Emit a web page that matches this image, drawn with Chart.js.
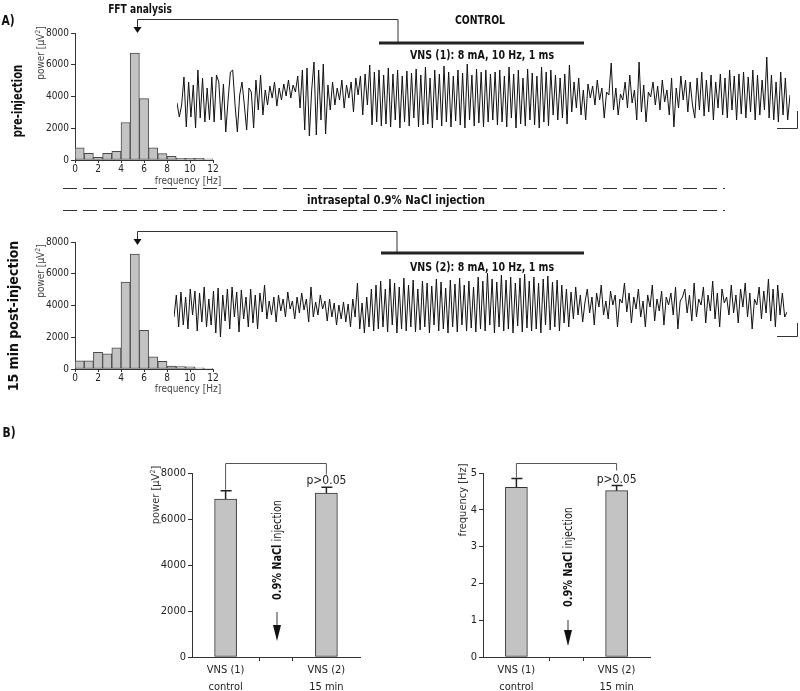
<!DOCTYPE html>
<html>
<head>
<meta charset="utf-8">
<script src="https://cdn.jsdelivr.net/npm/chart.js@4"></script>
<style>
body{margin:0;background:#fff;width:800px;height:691px;position:relative;overflow:hidden;font-family:"Liberation Sans Narrow","DejaVu Sans Condensed",sans-serif;color:#111}
canvas{position:absolute}
svg{position:absolute;left:0;top:0}
.t{position:absolute;white-space:nowrap;line-height:1;transform:translate(-50%,-50%) scaleX(var(--sx,1))}
.r{transform:translate(-50%,-50%) rotate(-90deg) scaleX(var(--sx,1))}
.b{font-weight:bold}
.lab{font-size:10px;color:#444}
sup{font-size:7px;vertical-align:4px;line-height:0}
</style>
</head>
<body>

<canvas id="histPre" width="201" height="155" style="left:20px;top:25px"></canvas>
<canvas id="histPost" width="201" height="155" style="left:20px;top:234px"></canvas>
<canvas id="tracePre" width="613" height="100" style="left:177px;top:50px"></canvas>
<canvas id="tracePost" width="613" height="100" style="left:174px;top:257px"></canvas>
<canvas id="barPower" width="240" height="250" style="left:130px;top:440px"></canvas>
<canvas id="barFreq" width="240" height="250" style="left:420px;top:440px"></canvas>

<svg width="800" height="691">
  <g stroke="#333" fill="none" stroke-width="1">
    <polyline points="398,43 398,19.5 137.5,19.5 137.5,28"/>
    <polyline points="397,253 397,231.5 137.5,231.5 137.5,240"/>
    <polyline points="777,128.5 797.5,128.5 797.5,111"/>
    <polyline points="777,336.5 797.5,336.5 797.5,323"/>
    <line x1="63" y1="188.5" x2="725" y2="188.5" stroke-dasharray="14 6"/>
    <line x1="63" y1="210.5" x2="725" y2="210.5" stroke-dasharray="14 6"/>
    <line x1="277" y1="612" x2="277" y2="628"/>
    <line x1="568" y1="620" x2="568" y2="633"/>
  </g>
  <g fill="#111">
    <polygon points="133.5,27 141.5,27 137.5,33"/>
    <polygon points="133.5,239 141.5,239 137.5,245"/>
    <polygon points="273,625 281,625 277,641"/>
    <polygon points="564,630 572,630 568,646"/>
  </g>
  <g stroke="#222" stroke-width="3">
    <line x1="379" y1="43" x2="584" y2="43"/>
    <line x1="381" y1="253" x2="584" y2="253"/>
  </g>
</svg>

<div class="t b" style="left:8px;top:20px;font-size:14px;--sx:.85">A)</div>
<div class="t b" style="left:9px;top:432px;font-size:14px;--sx:.85">B)</div>
<div class="t b" style="left:140px;top:8px;font-size:13px;--sx:.78">FFT analysis</div>
<div class="t b" style="left:480px;top:19px;font-size:13px;--sx:.8">CONTROL</div>
<div class="t b" style="left:482px;top:54px;font-size:13px;--sx:.81">VNS (1): 8 mA, 10 Hz, 1 ms</div>
<div class="t b" style="left:482px;top:266px;font-size:13px;--sx:.81">VNS (2): 8 mA, 10 Hz, 1 ms</div>
<div class="t b" style="left:396px;top:199px;font-size:13px;--sx:.87">intraseptal 0.9% NaCl injection</div>
<div class="t r b" style="left:17px;top:101px;font-size:14px;--sx:.8">pre-injection</div>
<div class="t r b" style="left:13px;top:316px;font-size:14px;--sx:1">15 min post-injection</div>
<div class="t r lab" style="left:41px;top:53px">power [µV<sup>2</sup>]</div>
<div class="t r lab" style="left:41px;top:271px">power [µV<sup>2</sup>]</div>
<div class="t lab" style="left:188px;top:181px">frequency [Hz]</div>
<div class="t lab" style="left:188px;top:389px">frequency [Hz]</div>
<div class="t r" style="left:155px;top:495px;font-size:11px;color:#333">power [µV<sup>2</sup>]</div>
<div class="t r" style="left:462px;top:500px;font-size:11px;color:#333">frequency [Hz]</div>
<div class="t r" style="left:277px;top:550px;font-size:12px;--sx:.9"><b>0.9% NaCl</b> injection</div>
<div class="t r" style="left:568px;top:557px;font-size:12px;--sx:.9"><b>0.9% NaCl</b> injection</div>

<script>
Chart.defaults.font.family = '"Liberation Sans Narrow", "DejaVu Sans Condensed", sans-serif'
Chart.defaults.color = "#222"

// FFT histogram: bin centres (0.8 Hz bins) and power [uV^2]
const freqBins = [0.4, 1.2, 2.0, 2.8, 3.6, 4.4, 5.2, 6.0, 6.8, 7.6, 8.4, 9.2, 10.0, 10.8, 11.6]
const powerPre = [760, 420, 170, 420, 550, 2360, 6740, 3870, 770, 400, 230, 100, 100, 100, 80]
const powerPost = [520, 520, 1050, 950, 1330, 5470, 7240, 2440, 760, 480, 190, 150, 130, 80, 40]

// EEG traces, amplitude relative to baseline
const eegPre = [
  -3, -17, -5, 23, -27, 18, -17, 15, -28, 30, -18, 22, -22, 12, -20, 23, -22, 25, 18, -20, 16, -32, 0, 28, 30, -5, -32,
  5, 18, -5, -30, 12, 8, -28, 20, -10, 25, -15, 10, -5, 14, 2, 18, -6, 12, 0, 16, 4, 20, 2, 15, 8, 24, -8,
  30, -30, 32, -36, 10, 38, -35, 30, -20, 36, -34, 15,
  -10, 18, -5, 12, 0, 20, -8, 15, 2, 18, -12, 22, 5, 24, -15, 26, -5, 35,
  -25, 28, -22, 30, -26, 25, -24, 32, -27, 26, -20, 30, -28, 24, -22, 29, -26, 27, -18, 31, -27, 25, -25, 33, -24, 22,
  -28, 30, -20, 26, -26, 34, -22, 28, -27, 24, -21, 30, -25, 27, -28, 36, -20, 25, -26, 31, -23, 28, -27, 30, -22, 26,
  -20, 28, -25, 30, -22, 24, -27, 33, -18, 26, -28, 30, -24, 22, -26, 31, -20, 27, -25, 24, -28, 33,
  -22, 28, -26, 30, -15, 25, -20, 22, -18, 26, -24, 35, -12, 18, -8, 22, -15, 10, -20, 16,
  2, 14, -5, 20, 0, 12, -18, 8, 5, 37, -10, 12, -15, 6, 0, 18, -8, 25, -3, 10, -20, 38, -12,
  15, -22, 8, 3, 18, -5, 14, -10, 20, -2, 10, -15, 22, -27, 12, -8, 24, 0, 20, -12, 18, -5,
  -18, 22, -10, 28, -16, 20, -12, 25, -20, 18, -8, 26, -15, 22, -18, 30, -10, 24, -20, 26, -14,
  28, -18, 23, -12, 30, -20, 25, -15, 20, -10, 43, -18, 25, -20, 18, -22, 28, -15, 22, -20, 5
]
const eegPost = [
  -10, 12, -20, 15, -18, 10, -22, 18, -8, 16, -24, 14, -15, 20, -20, 8, -18, 16, -26, 19,
  -30, 12, -14, 18, -22, 20, -10, 15, -25, 17, -12, 10, -20, 18, -16, 12, -22,
  14, -5, 22, -12, 6, -8, 10, -15, 12, -4, 8, -10, 15, -2, 6, -12, 10, -6,
  14, -3, 8, -15, 20, -10, 5, -8, 12, -2, 6, -14, 8, -10, 4, -18, 2, -12,
  5, -15, 3, -20, 8, -10, 24, -22, 4, -26, 10, -20, 18, -24, 22, -22, 26, -20, 18, -25, 28, -18, 24, -26, 20, -22, 29, -24, 22,
  -20, 27, -25, 18, -23, 26, -20, 24, -26, 21, -18, 28, -24, 25, -22, 19, -26, 27, -20, 23, -25, 29, -18, 22, -24, 26, -21, 20, -25,
  30, -22, 26, -24, 34, -18, 28, -26, 25, -20, 32, -24, 27, -22, 30, -26, 24, -19, 29, -25, 33, -21,
  26, -24, 30, -22, 24, -26, 28, -18, 31, -23, 25, -20, 27, -24, 22, -16, 18, -20, 15, -12, 20, -8,
  12, -15, 5, 18, -6, 10, -18, 14, 0, 22, -8, 6, -12, 16, 2, 12, -20, 8, 4, 24, -5, 14, -16,
  10, -2, 18, -10, 6, -20, 12, 0, 22, -14, 8, -4, 16, -18, 10, 2, 14, -8, 20, -22, 6, 10,
  18, -6, 12, -14, 24, -10, 8, 2, 20, -16, 12, -4, 26, -12, 14, -20, 18, 4, 10, -8, 22, -6,
  12, -16, 18, 0, 24, -10, 14, -22, 8, 2, 20, -12, 16, -6, 28, -14, 18, -20, 22, -8, 14, -10, -5
]

// B) group means and SEM
const groupPos = [1, 4]
const groupLabels = [["VNS (1)", "control"], ["VNS (2)", "15 min"]]
const powerMean = [6870, 7130]
const powerErr = [360, 250]
const freqMean = [4.61, 4.52]
const freqErr = [0.24, 0.14]

const axisColor = "#333"
const plain = v => String(v)

function histogram(id, values){
    return new Chart(document.getElementById(id), {
        type: "bar",
        data: {
            datasets: [{
                data: freqBins.map((f, i) => ({x: f, y: values[i]})),
                backgroundColor: "#c3c3c3",
                borderColor: "#4a4a4a",
                borderWidth: 1,
                borderSkipped: false,
                barPercentage: 1,
                categoryPercentage: 1
            }]
        },
        options: {
            responsive: false,
            animation: false,
            events: [],
            layout: {padding: {top: 8, right: 8, left: 0, bottom: 0}},
            plugins: {legend: {display: false}, tooltip: {enabled: false}},
            scales: {
                x: {
                    type: "linear", min: 0, max: 12, offset: false,
                    ticks: {stepSize: 2, padding: 0, font: {size: 10}, callback: plain},
                    grid: {drawOnChartArea: false, offset: false, tickLength: 3, color: axisColor},
                    border: {color: axisColor},
                    afterFit: s => { s.height = 20 }
                },
                y: {
                    min: 0, max: 8000,
                    ticks: {stepSize: 2000, padding: 2, font: {size: 10}, callback: plain},
                    grid: {drawOnChartArea: false, tickLength: 4, color: axisColor},
                    border: {color: axisColor},
                    afterFit: s => { s.width = 55 }
                }
            }
        }
    })
}

function trace(id, values){
    return new Chart(document.getElementById(id), {
        type: "line",
        data: {
            labels: values.map((v, i) => i),
            datasets: [{data: values, borderColor: "#111", borderWidth: 1, pointRadius: 0, tension: 0, clip: false}]
        },
        options: {
            responsive: false,
            animation: false,
            events: [],
            layout: {padding: 0},
            plugins: {legend: {display: false}, tooltip: {enabled: false}},
            scales: {x: {display: false}, y: {display: false, min: -50, max: 50}}
        }
    })
}

const errorBars = {
    id: "errorBars",
    afterDatasetsDraw(chart, args, opts){
        const {ctx, scales: {y}, chartArea} = chart
        const bars = chart.getDatasetMeta(0).data
        const caps = opts.mean.map((m, i) => y.getPixelForValue(m + opts.err[i]))
        ctx.save()
        ctx.strokeStyle = "#222"
        ctx.lineWidth = 1.5
        bars.forEach((bar, i) => {
            ctx.beginPath()
            ctx.moveTo(bar.x, bar.y)
            ctx.lineTo(bar.x, caps[i])
            ctx.moveTo(bar.x - 5, caps[i])
            ctx.lineTo(bar.x + 6, caps[i])
            ctx.stroke()
        })
        // significance bracket
        const yb = chartArea.top - 9.5
        ctx.lineWidth = 1
        ctx.strokeStyle = "#555"
        ctx.beginPath()
        ctx.moveTo(bars[0].x, caps[0] - 1)
        ctx.lineTo(bars[0].x, yb)
        ctx.lineTo(bars[1].x, yb)
        ctx.lineTo(bars[1].x, yb + opts.leg)
        ctx.stroke()
        ctx.fillStyle = "#222"
        ctx.font = '12px "Liberation Sans Narrow", "DejaVu Sans Condensed", sans-serif'
        ctx.textAlign = "center"
        ctx.textBaseline = "alphabetic"
        ctx.fillText("p>0.05", bars[1].x, caps[1] - 3)
        ctx.restore()
    }
}

function groupBars(id, means, errs, max, step, yWidth, leg){
    return new Chart(document.getElementById(id), {
        type: "bar",
        data: {
            datasets: [{
                data: groupPos.map((p, i) => ({x: p, y: means[i]})),
                backgroundColor: "#c3c3c3",
                borderColor: "#333",
                borderWidth: 1,
                borderSkipped: false,
                barThickness: 22
            }]
        },
        options: {
            responsive: false,
            animation: false,
            events: [],
            layout: {padding: {top: 33, right: 10, left: 0, bottom: 0}},
            plugins: {
                legend: {display: false},
                tooltip: {enabled: false},
                errorBars: {mean: means, err: errs, leg: leg}
            },
            scales: {
                x: {
                    type: "linear", min: 0, max: 5, offset: false,
                    ticks: {
                        stepSize: 1, padding: 1, autoSkip: false, maxRotation: 0,
                        font: {size: 11, lineHeight: 1.55},
                        callback: v => { const k = groupPos.indexOf(v); return k < 0 ? "" : groupLabels[k] }
                    },
                    grid: {drawOnChartArea: false, offset: false, tickLength: 4,
                        color: c => (c.tick && (c.tick.value === 2 || c.tick.value === 3)) ? axisColor : "rgba(0,0,0,0)"},
                    border: {color: axisColor},
                    afterFit: s => { s.height = 33 }
                },
                y: {
                    min: 0, max: max,
                    ticks: {stepSize: step, padding: 2, font: {size: 11}, callback: plain},
                    grid: {drawOnChartArea: false, tickLength: 4, color: axisColor},
                    border: {color: axisColor},
                    afterFit: s => { s.width = yWidth }
                }
            }
        },
        plugins: [errorBars]
    })
}

histogram("histPre", powerPre)
histogram("histPost", powerPost)
trace("tracePre", eegPre)
trace("tracePost", eegPost)
groupBars("barPower", powerMean, powerErr, 8000, 2000, 62, 11)
groupBars("barFreq", freqMean, freqErr, 5, 1, 63, 7)
</script>
</body>
</html>
